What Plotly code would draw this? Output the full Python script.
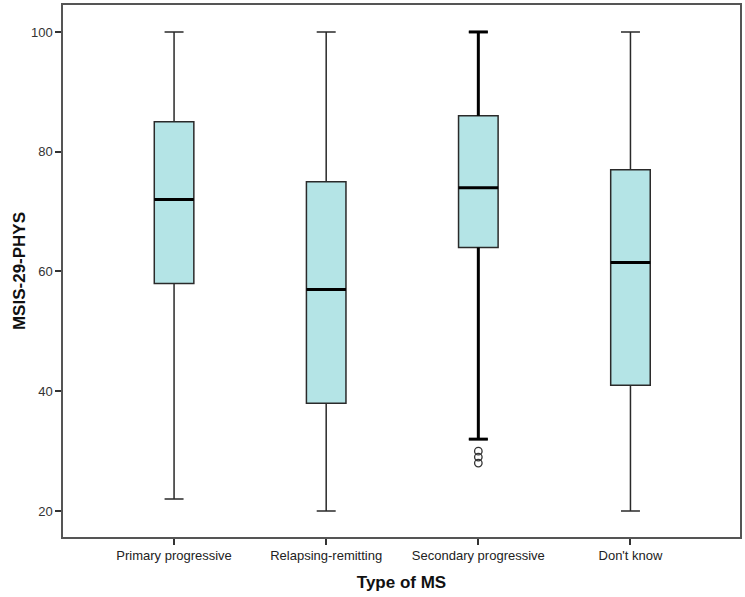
import plotly.graph_objects as go

categories = ["Primary progressive", "Relapsing-remitting", "Secondary progressive", "Don't know"]
lower_whisker = [22, 20, 32, 20]
q1 = [58, 38, 64, 41]
median = [72, 57, 74, 61.5]
q3 = [85, 75, 86, 77]
upper_whisker = [100, 100, 100, 100]
outlier_cat = [2, 2, 2]
outlier_vals = [28, 29, 30]
y_ticks = [20, 40, 60, 80, 100]

BOX_W = 0.26
FILL = "#b4e4e6"
LINE = "#2a2a2a"

fig = go.Figure()
xs = list(range(len(categories)))
for i, c in enumerate(categories):
    fig.add_trace(go.Box(
        x=[i], q1=[q1[i]], median=[median[i]], q3=[q3[i]],
        lowerfence=[lower_whisker[i]], upperfence=[upper_whisker[i]],
        width=BOX_W, whiskerwidth=0.48, fillcolor=FILL,
        line=dict(color=LINE, width=1.5), boxpoints=False,
        name=c, showlegend=False, hoverinfo="skip",
    ))

# thick medians
for i in xs:
    fig.add_trace(go.Scatter(
        x=[i - BOX_W / 2, i + BOX_W / 2], y=[median[i], median[i]],
        mode="lines", line=dict(color="#000000", width=3),
        showlegend=False, hoverinfo="skip"))

# thick whiskers for secondary progressive (as in reference)
k = 2
cap = BOX_W * 0.48 / 2
for a, b in [(q3[k], upper_whisker[k]), (q1[k], lower_whisker[k])]:
    fig.add_trace(go.Scatter(x=[k, k], y=[a, b], mode="lines",
                             line=dict(color="#000000", width=3),
                             showlegend=False, hoverinfo="skip"))
    fig.add_trace(go.Scatter(x=[k - cap, k + cap], y=[b, b], mode="lines",
                             line=dict(color="#000000", width=3),
                             showlegend=False, hoverinfo="skip"))

fig.add_trace(go.Scatter(
    x=outlier_cat, y=outlier_vals, mode="markers",
    marker=dict(symbol="circle-open", size=7.5, color="#333333", line=dict(width=1.3)),
    showlegend=False, hoverinfo="skip"))

fig.update_layout(
    width=745, height=597,
    margin=dict(l=63, r=5, t=5, b=60),
    plot_bgcolor="white", paper_bgcolor="white",
    font=dict(family="Liberation Sans, Arial, sans-serif", color="#222222"),
)
fig.update_xaxes(
    range=[-0.73, 3.72], tickmode="array", tickvals=xs, ticktext=categories,
    ticks="outside", ticklen=6, tickcolor="#333333", tickwidth=1.5,
    showline=True, mirror=True, linecolor="#555555", linewidth=1.5,
    showgrid=False, zeroline=False, tickfont=dict(size=13, color="#222222"),
    automargin=False,
    title=dict(text="<b>Type of MS</b>", font=dict(size=17, color="#111111"), standoff=14),
)
fig.update_yaxes(
    range=[15.66, 104.5], tickmode="array", tickvals=y_ticks,
    ticks="outside", ticklen=6, tickcolor="#333333", tickwidth=1.5,
    showline=True, mirror=True, linecolor="#555555", linewidth=1.5,
    showgrid=False, zeroline=False, tickfont=dict(size=13, color="#333333"),
    automargin=False,
    title=dict(text="<b>MSIS-29-PHYS</b>", font=dict(size=17, color="#111111"), standoff=1),
)

fig.write_html("out.html", config={"displayModeBar": False},
               post_script="document.body.style.margin='0px';")
